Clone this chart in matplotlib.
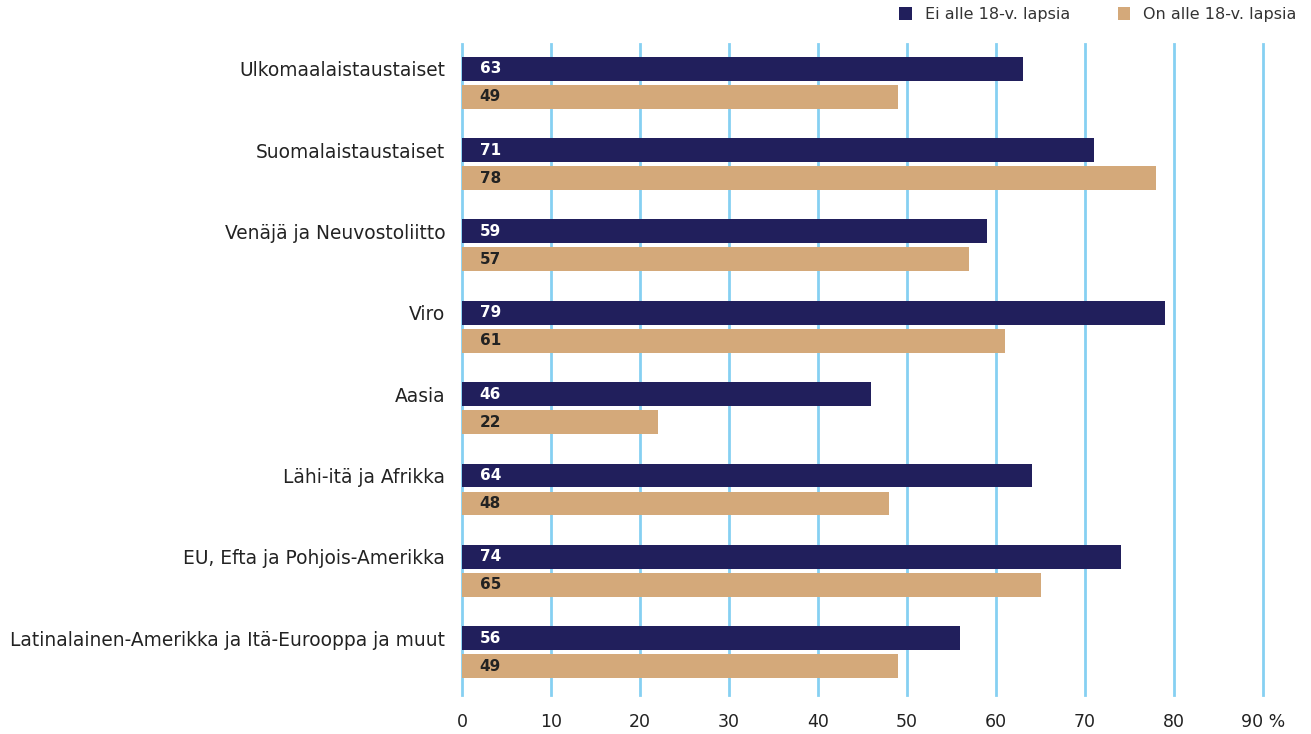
import matplotlib.pyplot as plt
import numpy as np

categories = [
    "Ulkomaalaistaustaiset",
    "Suomalaistaustaiset",
    "Venäjä ja Neuvostoliitto",
    "Viro",
    "Aasia",
    "Lähi-itä ja Afrikka",
    "EU, Efta ja Pohjois-Amerikka",
    "Latinalainen-Amerikka ja Itä-Eurooppa ja muut",
]
ei_lapsia = [63, 71, 59, 79, 46, 64, 74, 56]
on_lapsia = [49, 78, 57, 61, 22, 48, 65, 49]
series_names = ["Ei alle 18-v. lapsia", "On alle 18-v. lapsia"]
xticks = [0, 10, 20, 30, 40, 50, 60, 70, 80, 90]
xtick_labels = ["0", "10", "20", "30", "40", "50", "60", "70", "80", "90 %"]

dark = "#211f5c"
tan = "#d4a97a"
grid_col = "#86d0f2"
text_col = "#222222"

plt.rcParams["font.family"] = ["DejaVu Sans"]

fig = plt.figure(figsize=(13.11, 7.34), dpi=100)
ax = fig.add_axes([462 / 1311, 1 - 695 / 734, (1263 - 462) / 1311, (695 - 44) / 734])

y = np.arange(len(categories))
off = 0.172
h = 0.294

for t in xticks:
    ax.axvline(t, color=grid_col, lw=2, zorder=0, clip_on=False)

b1 = ax.barh(y - off, ei_lapsia, height=h, color=dark, zorder=2, label=series_names[0])
b2 = ax.barh(y + off, on_lapsia, height=h, color=tan, zorder=2, label=series_names[1])

for yi, v in zip(y, ei_lapsia):
    ax.text(2.0, yi - off, f"{v}", color="white", fontsize=11, fontweight="bold",
            va="center", ha="left", zorder=3)
for yi, v in zip(y, on_lapsia):
    ax.text(2.0, yi + off, f"{v}", color=text_col, fontsize=11, fontweight="bold",
            va="center", ha="left", zorder=3)

ax.set_xlim(0, 90)
ax.set_ylim(len(categories) - 0.475, -0.475)
ax.set_yticks(y - off)
ax.set_yticklabels(categories, fontsize=13.4, color=text_col, va="center_baseline")
ax.set_xticks(xticks)
ax.set_xticklabels(xtick_labels, fontsize=12.5, color=text_col)
ax.tick_params(axis="y", length=0, pad=12)
ax.tick_params(axis="x", length=0, pad=13)
for s in ax.spines.values():
    s.set_visible(False)

fig.legend(handles=[b1, b2], labels=series_names, loc="upper right",
           bbox_to_anchor=(1.0, 1.01), ncol=2, frameon=False, fontsize=11.5,
           handlelength=0.8, handleheight=0.8, columnspacing=3.0, handletextpad=0.8,
           labelcolor="#333333")

fig.savefig("out.png", dpi=100)
